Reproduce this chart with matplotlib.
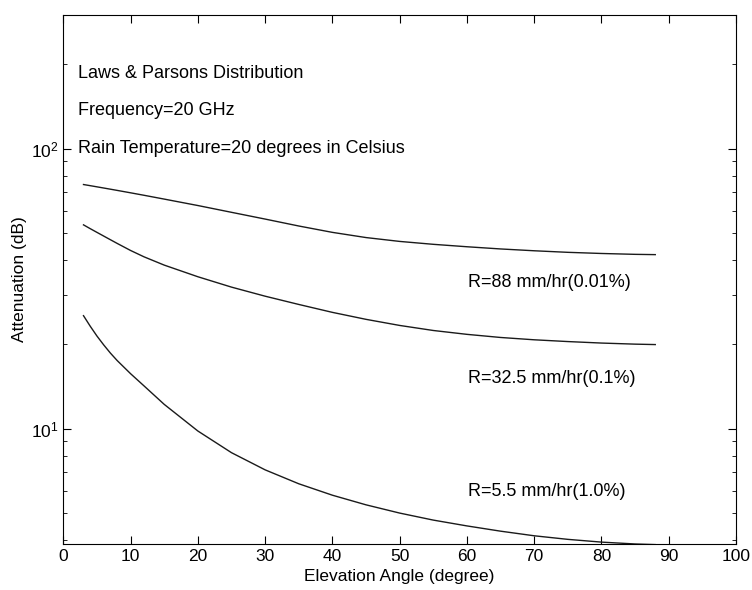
"""
rain attenuation vs elevation angle, Laws & Parsons drop distribution
"""

import matplotlib
matplotlib.use("Agg")
import matplotlib.pyplot as plt

plt.rcParams['font.family'] = ['Liberation Sans', 'DejaVu Sans']
plt.rcParams['mathtext.fontset'] = 'custom'
plt.rcParams['mathtext.rm'] = 'Liberation Sans'
plt.rcParams['mathtext.it'] = 'Liberation Sans'

# elevation angle (degree)
angle = [3, 4, 5, 6, 7, 8, 10, 12, 15, 20, 25, 30, 35, 40, 45, 50, 55, 60,
         65, 70, 75, 80, 85, 88]
# attenuation (dB) for each rain rate
att_88 = [74.4, 73.7, 73.0, 72.3, 71.6, 70.9, 69.5, 68.1, 66.0, 62.6, 59.2,
          56.0, 52.9, 50.2, 48.1, 46.6, 45.5, 44.6, 43.8, 43.15, 42.6, 42.2,
          41.9, 41.8]
att_325 = [53.4, 51.75, 50.2, 48.7, 47.25, 45.85, 43.25, 41.05, 38.35, 34.85,
           32.0, 29.7, 27.75, 26.0, 24.55, 23.35, 22.4, 21.7, 21.15, 20.75,
           20.45, 20.2, 20.02, 19.95]
att_55 = [25.3, 23.2, 21.4, 19.9, 18.6, 17.5, 15.7, 14.2, 12.2, 9.8, 8.2,
          7.12, 6.35, 5.78, 5.34, 4.99, 4.71, 4.49, 4.3, 4.14, 4.02, 3.93,
          3.87, 3.85]
labels = ["R=88 mm/hr(0.01%)", "R=32.5 mm/hr(0.1%)", "R=5.5 mm/hr(1.0%)"]
label_y = [33.2, 15.1, 5.96]
notes = ["Laws & Parsons Distribution", "Frequency=20 GHz",
         "Rain Temperature=20 degrees in Celsius"]
note_y = [186, 137, 100]


def main():
    fig = plt.figure(figsize=(7.52, 5.9), dpi=100)
    ax = fig.add_axes([0.0842, 0.078, 0.8945, 0.8966])
    for a in [att_88, att_325, att_55]:
        ax.plot(angle, a, color="#1a1a1a", lw=1.0)
    ax.set_yscale("log")
    ax.set_xlim(0, 100)
    ax.set_ylim(3.87, 300)
    ax.set_xticks(range(0, 101, 10))
    ax.tick_params(which="both", direction="in", top=True, right=True,
                   labelsize=12.5)
    ax.tick_params(which="major", length=6)
    ax.tick_params(which="minor", length=3)
    for lab, y in zip(labels, label_y):
        ax.text(60.1, y, lab, fontsize=13, va="center")
    for n, y in zip(notes, note_y):
        ax.text(2.2, y, n, fontsize=13, va="center")
    ax.set_xlabel("Elevation Angle (degree)", fontsize=12.5, labelpad=4)
    ax.set_ylabel("Attenuation (dB)", fontsize=12.5, labelpad=3)
    plt.savefig("out.png")


main()
